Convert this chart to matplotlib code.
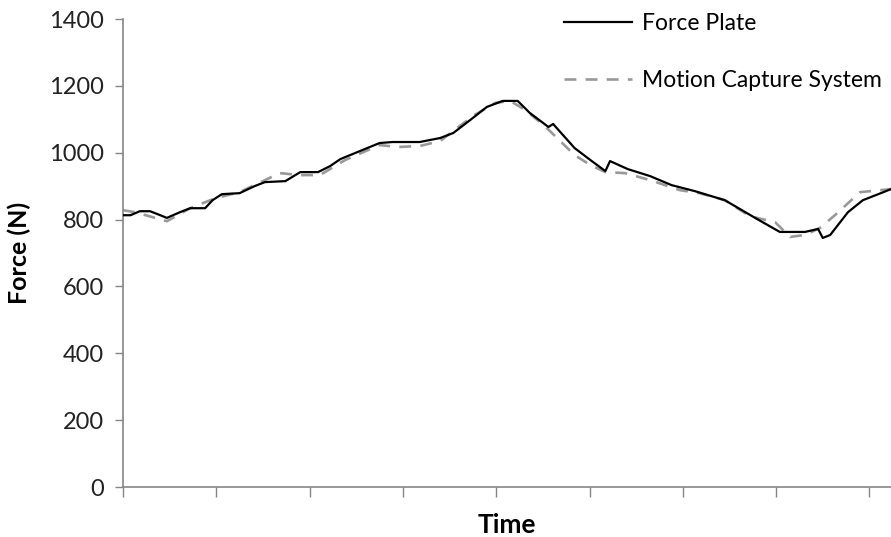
import numpy as np
import matplotlib.pyplot as plt

# time in tick-interval units, force in N
t_plate = [0.00, 0.08, 0.18, 0.29, 0.40, 0.47, 0.61, 0.72, 0.88, 0.96, 1.06, 1.25,
           1.41, 1.52, 1.74, 1.90, 2.09, 2.22, 2.33, 2.54, 2.75, 2.89, 3.18, 3.40,
           3.54, 3.75, 3.90, 4.07, 4.23, 4.36, 4.56, 4.61, 4.84, 5.01, 5.17, 5.22,
           5.41, 5.65, 5.88, 6.13, 6.45, 6.80, 7.04, 7.31, 7.45, 7.50, 7.58, 7.77,
           7.93, 8.15, 8.23]
f_plate = [813, 813, 825, 825, 813, 805, 822, 834, 834, 858, 876, 879,
           900, 912, 915, 942, 942, 960, 981, 1005, 1029, 1032, 1032, 1044,
           1059, 1104, 1137, 1155, 1155, 1119, 1077, 1086, 1014, 978, 945, 975,
           951, 930, 903, 885, 858, 801, 763, 763, 772, 745, 754, 822,
           858, 882, 891]

t_mocap = [0.00, 0.13, 0.47, 0.72, 0.99, 1.25, 1.68, 1.90, 2.11, 2.38, 2.75, 2.94,
           3.18, 3.40, 3.58, 3.77, 3.99, 4.15, 4.31, 4.52, 4.84, 5.01, 5.17, 5.38,
           5.65, 5.97, 6.18, 6.45, 6.72, 6.99, 7.15, 7.31, 7.47, 7.63, 7.90, 8.23]
f_mocap = [828, 822, 795, 834, 864, 882, 939, 933, 933, 978, 1023, 1017,
           1020, 1035, 1074, 1113, 1149, 1155, 1128, 1080, 993, 963, 942, 939,
           918, 888, 879, 858, 810, 792, 748, 754, 775, 813, 882, 891]

plt.rcParams['font.family'] = ['Lato', 'DejaVu Sans']

fig = plt.figure(figsize=(8.91, 5.37), dpi=100)
ax = fig.add_axes([123/891, 50/537, 768/891, 468/537])

axcol = '#868686'
ax.plot(t_plate, f_plate, color='black', lw=1.6, label='Force Plate', zorder=3)
ax.plot(t_mocap, f_mocap, color='#999999', lw=1.9, ls=(0, (4.5, 3.5)),
        label='Motion Capture System', zorder=2)

ax.set_xlim(0, 768/93.3)
ax.set_ylim(0, 1400)
ax.set_xticks(range(0, 9))
ax.set_xticklabels([])
ax.set_yticks(range(0, 1401, 200))
ax.tick_params(axis='y', direction='out', length=6, width=1, color=axcol,
               labelsize=17, labelcolor='#222222', pad=8)
ax.tick_params(axis='x', direction='out', length=7, width=1, color=axcol)

for s in ['top', 'right']:
    ax.spines[s].set_visible(False)
for s in ['left', 'bottom']:
    ax.spines[s].set_color(axcol)
    ax.spines[s].set_linewidth(1.2)

ax.set_xlabel('Time', fontsize=19, fontweight='bold')
ax.set_ylabel('Force (N)', fontsize=18, fontweight='bold')
ax.xaxis.set_label_coords(0.5, (487 - 513) / 468)
ax.yaxis.set_label_coords((31 - 123) / 768, 0.5)

fig.legend(loc='upper left', bbox_to_anchor=(543/891, 1 + 8/537), frameon=False,
           fontsize=16.5, handlelength=3.0, handletextpad=0.4, labelspacing=1.6)

fig.savefig('out.png', dpi=100)
